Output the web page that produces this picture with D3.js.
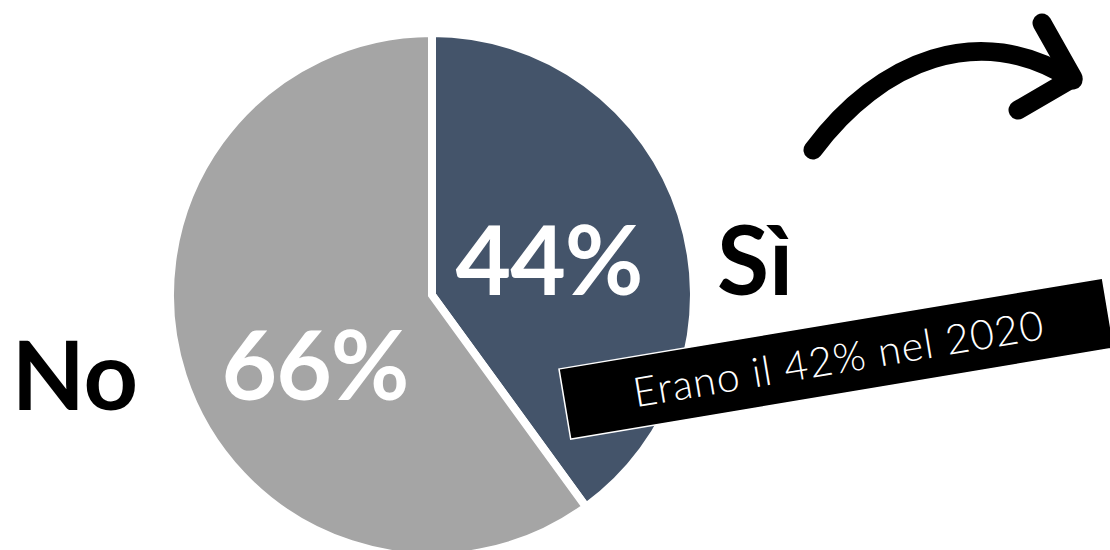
<!DOCTYPE html>
<html>
<head>
<meta charset="utf-8">
<script src="https://cdn.jsdelivr.net/npm/d3@7"></script>
<style>
  html, body { margin: 0; padding: 0; background: #fff; }
  svg { display: block; }
</style>
</head>
<body>
<div id="chart"></div>
<script>
// data
const categories = ['Sì', 'No'];
const values = [44, 66];
const valueLabels = ['44%', '66%'];
const colors = ['#44546A', '#A5A5A5'];
const noteText = 'Erano il 42% nel 2020';

const width = 1110;
const height = 550;

const cx = 432;
const cy = 295;
const radius = 262;

// label placement relative to pie centre
const valueLabelOffsets = [[117, 0], [-117, 105]];
const categoryLabelOffsets = [[285, 0, 'start'], [-294, 115, 'end']];

const svg = d3.select('#chart').append('svg')
  .attr('width', width)
  .attr('height', height)
  .attr('viewBox', `0 0 ${width} ${height}`);

const pie = d3.pie().sort(null).value(d => d)(values);
const arc = d3.arc().innerRadius(0).outerRadius(radius);

const g = svg.append('g').attr('transform', `translate(${cx},${cy})`);

g.selectAll('path.slice')
  .data(pie)
  .enter()
  .append('path')
  .attr('class', 'slice')
  .attr('d', arc)
  .attr('fill', (d, i) => colors[i])
  .attr('stroke', '#fff')
  .attr('stroke-width', 8)
  .attr('stroke-linejoin', 'miter');

g.selectAll('text.val')
  .data(pie)
  .enter()
  .append('text')
  .attr('class', 'val')
  .attr('x', (d, i) => valueLabelOffsets[i][0])
  .attr('y', (d, i) => valueLabelOffsets[i][1])
  .attr('text-anchor', 'middle')
  .attr('font-family', 'Lato, sans-serif')
  .attr('font-weight', 700)
  .attr('font-size', 96)
  .attr('letter-spacing', -1)
  .attr('fill', '#fff')
  .text((d, i) => valueLabels[i]);

g.selectAll('text.cat')
  .data(categories)
  .enter()
  .append('text')
  .attr('class', 'cat')
  .attr('x', (d, i) => categoryLabelOffsets[i][0])
  .attr('y', (d, i) => categoryLabelOffsets[i][1])
  .attr('text-anchor', (d, i) => categoryLabelOffsets[i][2])
  .attr('font-family', 'Lato, sans-serif')
  .attr('font-weight', 700)
  .attr('font-size', 95)
  .attr('fill', '#000')
  .text(d => d);

// note box
const boxW = 551;
const boxH = 71;
const note = svg.append('g')
  .attr('transform', 'translate(559,369) rotate(-9.5)');

note.append('rect')
  .attr('width', boxW)
  .attr('height', boxH)
  .attr('fill', '#000')
  .attr('stroke', '#fff')
  .attr('stroke-width', 1.5);

const noteLabel = note.append('text')
  .attr('x', boxW / 2 + 2)
  .attr('y', boxH / 2 + 15)
  .attr('text-anchor', 'middle')
  .attr('font-family', 'Lato, sans-serif')
  .attr('font-weight', 300)
  .attr('font-size', 41)
  .attr('fill', '#fff')
  .text(noteText);

// widen the note text to the reference length with letter spacing
const targetLen = 415;
const len = noteLabel.node().getComputedTextLength();
if (len > 0 && len < targetLen) {
  noteLabel.attr('letter-spacing', (targetLen - len) / (noteText.length - 1));
}

// arrow
const arrow = svg.append('g')
  .attr('fill', 'none')
  .attr('stroke', '#000')
  .attr('stroke-width', 19)
  .attr('stroke-linecap', 'round')
  .attr('stroke-linejoin', 'round');

const curve = d3.path();
curve.moveTo(813, 150);
curve.bezierCurveTo(880, 60, 980, 20, 1073, 80);
arrow.append('path').attr('d', curve.toString());

arrow.append('path')
  .attr('d', d3.line()([[1042, 23], [1073, 78], [1018, 110]]));
</script>
</body>
</html>
